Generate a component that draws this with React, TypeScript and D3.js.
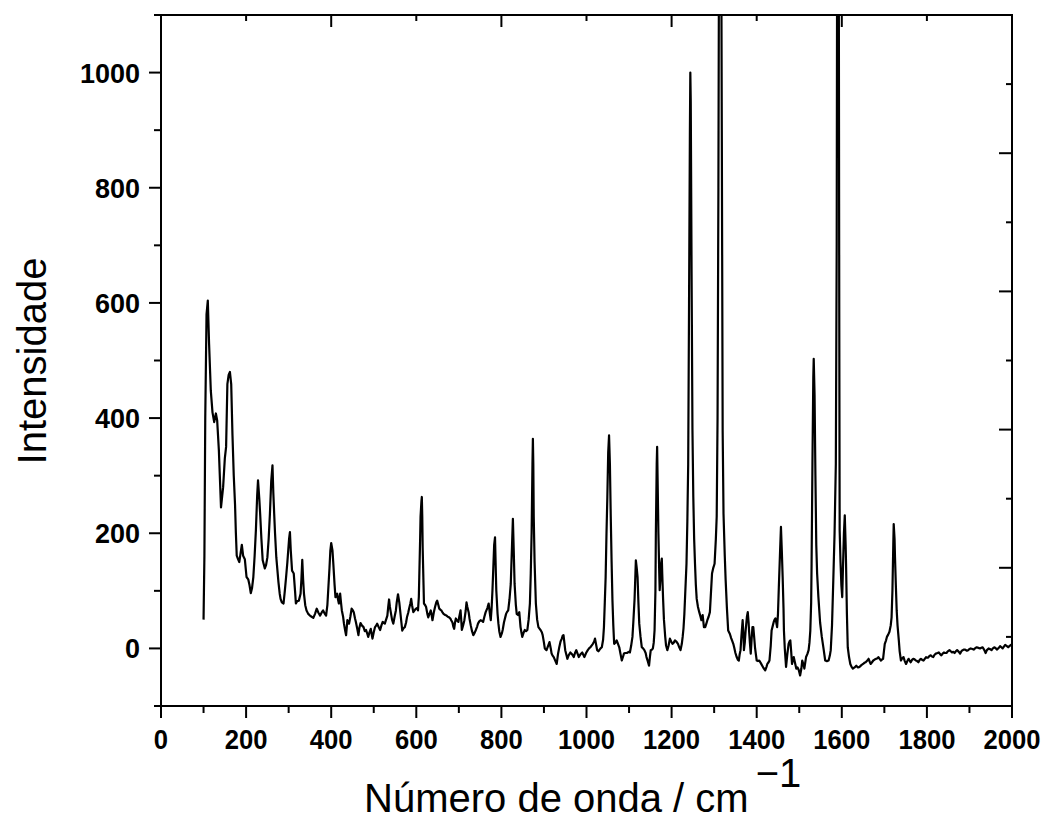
import React from "react";
import * as d3 from "d3";

// ---- data ----
const spectrum: [number, number][] = [
[100,50],[102,160],[104,400],[107,580],[110,604],[113,529],[117,448],[121,410],[125,393],[129,408],[132,396],[136,344],[141,245],[146,280],[150,330],[153,350],[156,459],[159,475],[162,480],[165,459],[168,370],[171,300],[174,250],[176,200],[178,161],[181,155],[184,150],[187,165],[190,180],[193,161],[197,155],[201,124],[205,120],[208,110],[211,96],[214,105],[217,124],[220,160],[223,205],[226,265],[228,292],[231,260],[233,234],[236,190],[239,153],[244,139],[247,145],[250,158],[253,190],[256,234],[259,290],[262,318],[264,270],[266,234],[268,200],[271,158],[276,115],[279,95],[281,86],[284,80],[288,78],[291,100],[294,124],[297,150],[299,170],[301,190],[303,202],[305,170],[308,135],[312,130],[315,100],[317,78],[320,82],[324,83],[328,95],[330,120],[332,154],[334,120],[336,95],[339,75],[342,66],[346,60],[350,57],[354,55],[358,53],[362,60],[366,69],[370,62],[374,57],[378,63],[381,66],[385,60],[388,57],[391,75],[393,101],[396,140],[398,170],[400,183],[403,170],[405,147],[408,110],[410,89],[412,92],[414,95],[416,85],[418,78],[420,90],[421,95],[423,80],[425,66],[428,55],[430,43],[433,30],[435,23],[437,40],[438,49],[440,46],[442,43],[445,55],[448,69],[451,66],[453,63],[456,52],[458,46],[461,35],[464,23],[466,35],[469,44],[472,40],[476,37],[479,30],[482,32],[485,25],[487,20],[490,28],[493,34],[495,25],[497,17],[500,28],[503,37],[506,40],[508,43],[511,38],[515,32],[518,40],[521,46],[524,44],[526,43],[529,50],[532,57],[534,72],[536,85],[538,72],[540,63],[543,50],[546,43],[549,55],[552,66],[554,80],[557,94],[560,80],[562,66],[565,45],[567,31],[570,35],[573,37],[576,45],[578,54],[581,62],[583,69],[586,78],[588,86],[590,75],[593,63],[596,66],[599,69],[602,70],[604,66],[606,90],[607,124],[609,190],[610,229],[612,255],[613,263],[614,230],[615,174],[617,110],[618,78],[621,75],[623,72],[626,60],[628,54],[631,60],[634,66],[636,58],[638,49],[641,62],[644,72],[647,80],[649,83],[652,75],[654,69],[657,67],[659,66],[662,62],[664,60],[668,58],[671,57],[674,55],[677,54],[680,52],[682,49],[685,45],[687,38],[689,34],[691,45],[693,52],[696,48],[699,46],[701,55],[704,66],[706,45],[707,32],[710,40],[713,49],[716,65],[718,80],[720,72],[723,63],[725,52],[728,40],[731,30],[734,23],[737,27],[740,32],[743,38],[745,43],[748,47],[751,49],[754,48],[757,46],[760,55],[763,63],[767,70],[770,78],[773,60],[775,49],[777,70],[779,101],[781,140],[783,180],[785,193],[787,130],[788,101],[791,60],[793,43],[795,30],[798,20],[801,26],[803,32],[806,45],[811,60],[813,63],[816,66],[819,85],[822,112],[825,180],[827,225],[829,170],[831,112],[834,75],[836,60],[839,58],[842,63],[845,37],[847,28],[849,20],[852,27],[855,32],[858,30],[861,32],[864,50],[867,78],[869,130],[871,200],[873,320],[874,364],[875,320],[876,229],[878,150],[881,78],[884,50],[887,37],[890,34],[892,32],[895,28],[897,23],[900,10],[902,0],[906,-3],[910,5],[913,11],[916,0],[918,-9],[920,-12],[923,-15],[927,-22],[930,-27],[933,-10],[936,2],[939,12],[942,17],[944,22],[946,23],[948,10],[950,-3],[953,-12],[955,-18],[958,-12],[962,-7],[966,-10],[970,-15],[973,-8],[976,-3],[979,-9],[982,-15],[986,-10],[990,-7],[993,-12],[995,-15],[999,-8],[1003,-3],[1006,0],[1009,2],[1012,5],[1015,8],[1018,12],[1020,17],[1023,5],[1025,-3],[1028,-5],[1030,-3],[1033,0],[1036,2],[1039,15],[1041,37],[1043,80],[1045,124],[1047,200],[1049,263],[1051,340],[1053,370],[1055,320],[1057,229],[1059,150],[1061,83],[1063,40],[1065,8],[1068,10],[1071,14],[1074,8],[1077,2],[1080,-10],[1083,-21],[1086,-14],[1088,-9],[1091,-8],[1095,-8],[1099,-6],[1102,-7],[1105,5],[1108,20],[1110,45],[1113,86],[1115,130],[1116,153],[1118,140],[1120,124],[1122,80],[1124,43],[1127,20],[1130,2],[1133,0],[1136,-3],[1139,-8],[1141,-15],[1144,-22],[1147,-30],[1149,-15],[1151,-3],[1154,-2],[1156,0],[1158,10],[1160,32],[1162,100],[1163,200],[1165,320],[1166,350],[1167,300],[1169,200],[1171,130],[1172,101],[1174,124],[1175,145],[1177,156],[1178,130],[1180,86],[1182,50],[1185,20],[1187,5],[1190,-3],[1193,5],[1196,17],[1199,12],[1202,8],[1205,10],[1208,14],[1211,12],[1215,8],[1218,2],[1221,-3],[1224,8],[1226,20],[1228,35],[1230,60],[1232,95],[1235,147],[1237,220],[1239,320],[1241,600],[1243,900],[1244,1000],[1245,950],[1247,650],[1249,380],[1251,263],[1253,190],[1255,147],[1257,110],[1259,86],[1262,72],[1265,63],[1268,55],[1270,49],[1273,58],[1276,37],[1279,37],[1282,44],[1284,49],[1287,55],[1290,63],[1292,90],[1295,130],[1298,140],[1301,147],[1304,190],[1306,229],[1308,400],[1310,800],[1312,1400],[1314,1700],[1316,1400],[1318,900],[1320,378],[1322,234],[1325,160],[1327,119],[1330,70],[1333,31],[1335,28],[1337,25],[1340,18],[1342,14],[1345,8],[1347,2],[1350,-8],[1353,-15],[1356,-20],[1358,-21],[1360,-10],[1362,-3],[1364,20],[1367,49],[1369,20],[1370,-3],[1372,10],[1374,31],[1377,55],[1379,63],[1381,45],[1382,31],[1384,10],[1386,-9],[1388,15],[1390,37],[1392,37],[1394,20],[1396,2],[1398,-10],[1400,-21],[1403,-22],[1406,-21],[1410,-26],[1413,-30],[1416,-34],[1420,-38],[1423,-32],[1425,-27],[1428,-24],[1430,-21],[1433,5],[1435,31],[1438,40],[1440,46],[1442,50],[1444,52],[1446,45],[1448,37],[1450,60],[1452,106],[1455,170],[1457,211],[1459,170],[1461,124],[1463,70],[1464,31],[1466,0],[1469,-32],[1472,-10],[1475,8],[1477,12],[1479,14],[1481,-5],[1483,-27],[1485,-20],[1487,-15],[1490,-25],[1493,-35],[1496,-33],[1499,-38],[1502,-47],[1505,-35],[1507,-21],[1510,-28],[1512,-35],[1514,-25],[1516,-15],[1519,-10],[1522,-3],[1524,10],[1526,31],[1528,80],[1529,147],[1531,321],[1533,470],[1534,503],[1536,440],[1538,300],[1540,180],[1542,130],[1545,89],[1549,45],[1553,20],[1557,0],[1561,-21],[1565,-22],[1569,-21],[1572,-12],[1574,-3],[1577,40],[1580,118],[1583,200],[1586,321],[1588,700],[1590,1700],[1592,1700],[1594,600],[1595,205],[1597,150],[1599,110],[1601,89],[1603,147],[1605,200],[1607,231],[1609,180],[1610,147],[1612,60],[1614,2],[1617,-15],[1620,-27],[1623,-32],[1626,-35],[1630,-33],[1634,-30],[1638,-33],[1642,-32],[1646,-29],[1650,-27],[1653,-25],[1656,-24],[1660,-21],[1663,-18],[1666,-24],[1668,-27],[1671,-24],[1674,-21],[1678,-19],[1681,-18],[1684,-17],[1686,-15],[1689,-18],[1692,-21],[1695,-19],[1697,-18],[1699,-5],[1701,8],[1704,14],[1706,20],[1709,24],[1712,29],[1715,40],[1717,54],[1719,100],[1721,180],[1722,216],[1724,190],[1725,159],[1727,110],[1729,66],[1731,40],[1734,14],[1736,-5],[1739,-21],[1742,-17],[1745,-15],[1748,-22],[1751,-27],[1754,-22],[1757,-18],[1760,-22],[1762,-24],[1765,-20],[1768,-18],[1771,-19],[1774,-21],[1777,-22],[1780,-24],[1783,-20],[1786,-18],[1789,-20],[1792,-21],[1795,-18],[1798,-15],[1800,-16],[1803,-16],[1806,-13],[1809,-12],[1812,-14],[1815,-15],[1818,-11],[1821,-9],[1825,-8],[1828,-7],[1831,-10],[1834,-12],[1837,-9],[1840,-7],[1843,-8],[1846,-8],[1849,-5],[1853,-3],[1856,-5],[1859,-7],[1862,-6],[1865,-8],[1868,-5],[1871,-3],[1875,-6],[1878,-9],[1881,-5],[1884,-3],[1887,-2],[1890,-2],[1894,-4],[1897,-3],[1900,-1],[1903,0],[1907,-1],[1910,-2],[1913,0],[1917,2],[1921,1],[1925,0],[1928,1],[1931,2],[1935,-3],[1938,-8],[1941,-3],[1945,0],[1948,-1],[1952,-3],[1955,0],[1959,2],[1962,0],[1965,-2],[1969,1],[1972,4],[1975,2],[1978,0],[1981,3],[1984,6],[1988,4],[1991,2],[1994,4],[1997,6],[2000,6]
];

const xMajorTicks = [0, 200, 400, 600, 800, 1000, 1200, 1400, 1600, 1800, 2000];
const xMinorTicks = [100, 300, 500, 700, 900, 1100, 1300, 1500, 1700, 1900];
const yMajorTicks = [0, 200, 400, 600, 800, 1000];
const yMinorTicks = [-100, 100, 300, 500, 700, 900, 1100];
const topMajorTicks = [0, 400, 800, 1200, 1600, 2000];
const topMinorTicks = [200, 600, 1000, 1400, 1800];
const rightTicks = [0, 1, 2, 3, 4, 5, 6, 7, 8, 9, 10];

const xTitle = "Número de onda / cm";
const xTitleSup = "\u22121";
const yTitle = "Intensidade";

export default function App() {
  const W = 1047, H = 830;
  const L = 161, R = 1012, T = 15, B = 706;
  const x = d3.scaleLinear().domain([0, 2000]).range([L, R]);
  const y = d3.scaleLinear().domain([-100, 1100]).range([B, T]);
  const yr = d3.scaleLinear().domain([0, 10]).range([B, T]);
  const line = d3.line<[number, number]>().x(d => x(d[0])).y(d => y(d[1]));
  const font = "'Liberation Sans', Arial, Helvetica, sans-serif";
  const sw = 2;

  return (
    <svg width={W} height={H} style={{ position: "absolute", left: 0, top: 0, background: "#fff" }}>
      <defs>
        <clipPath id="plotclip">
          <rect x={L} y={T} width={R - L} height={B - T} />
        </clipPath>
      </defs>
      <rect x={0} y={0} width={W} height={H} fill="#fff" />
      <path d={line(spectrum) || ""} fill="none" stroke="#000" strokeWidth={2.2} strokeLinejoin="round" clipPath="url(#plotclip)" />

      {/* frame */}
      <rect x={L} y={T} width={R - L} height={B - T} fill="none" stroke="#000" strokeWidth={sw} />

      {/* bottom ticks (outward) */}
      {xMajorTicks.map(t => (
        <line key={"xb" + t} x1={x(t)} x2={x(t)} y1={B} y2={B + 12} stroke="#000" strokeWidth={sw} />
      ))}
      {xMinorTicks.map(t => (
        <line key={"xm" + t} x1={x(t)} x2={x(t)} y1={B} y2={B + 7} stroke="#000" strokeWidth={sw} />
      ))}
      {/* top ticks (inward) */}
      {topMajorTicks.map(t => (
        <line key={"tb" + t} x1={x(t)} x2={x(t)} y1={T} y2={T + 12} stroke="#000" strokeWidth={sw} />
      ))}
      {topMinorTicks.map(t => (
        <line key={"tm" + t} x1={x(t)} x2={x(t)} y1={T} y2={T + 6} stroke="#000" strokeWidth={sw} />
      ))}
      {/* left ticks (outward) */}
      {yMajorTicks.map(t => (
        <line key={"yb" + t} x1={L - 12} x2={L} y1={y(t)} y2={y(t)} stroke="#000" strokeWidth={sw} />
      ))}
      {yMinorTicks.map(t => (
        <line key={"ym" + t} x1={L - 7} x2={L} y1={y(t)} y2={y(t)} stroke="#000" strokeWidth={sw} />
      ))}
      {/* right ticks (inward) */}
      {rightTicks.map(t => (
        <line key={"r" + t} x1={R - (t % 2 === 0 ? 13 : 6)} x2={R} y1={yr(t)} y2={yr(t)} stroke="#000" strokeWidth={sw} />
      ))}

      {/* tick labels */}
      {xMajorTicks.map(t => (
        <text key={"xl" + t} x={0} y={0} transform={`translate(${x(t)},749) scale(0.95,1)`} textAnchor="middle"
          fontFamily={font} fontWeight="bold" fontSize={27} fill="#000">{t}</text>
      ))}
      {yMajorTicks.map(t => (
        <text key={"yl" + t} x={140} y={y(t) + 10} textAnchor="end"
          fontFamily={font} fontWeight="bold" fontSize={27} fill="#000">{t}</text>
      ))}

      {/* axis titles */}
      <text x={364} y={812} fontFamily={font} fontSize={40} fill="#000">
        {xTitle}
        <tspan dx={7} dy={-25}>{xTitleSup}</tspan>
      </text>
      <text transform={`translate(46,361) rotate(-90)`} textAnchor="middle" fontFamily={font} fontSize={40} fill="#000">
        {yTitle}
      </text>
    </svg>
  );
}
